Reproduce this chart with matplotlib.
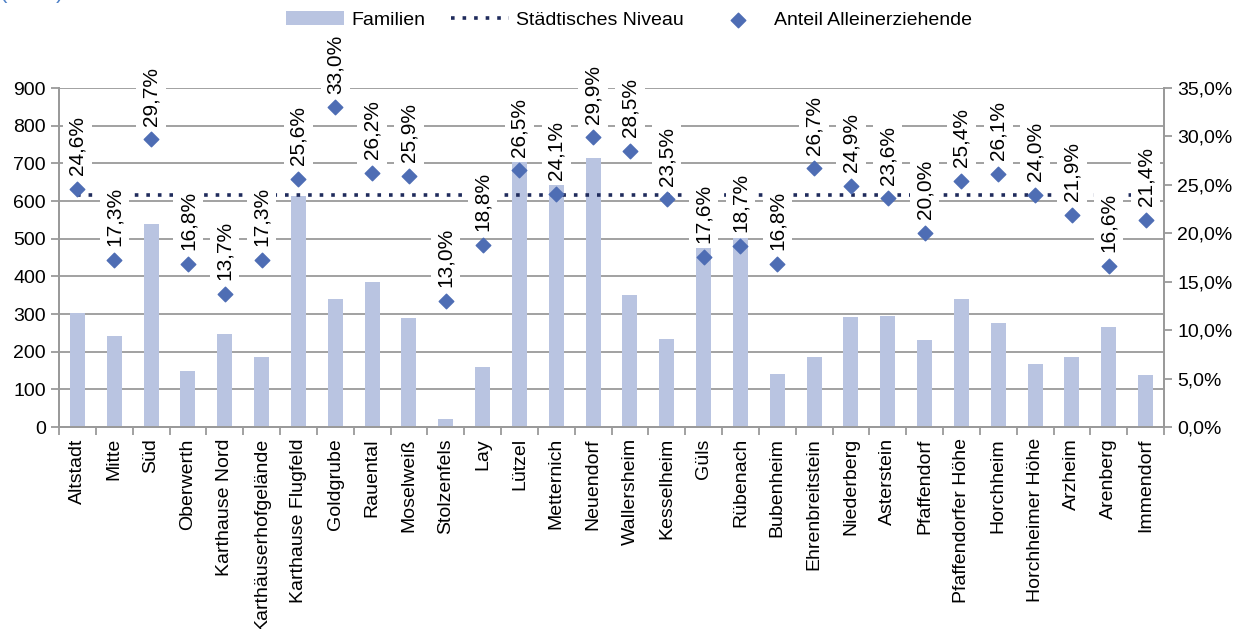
import matplotlib
matplotlib.use('Agg')
import matplotlib.pyplot as plt
from matplotlib.ticker import FuncFormatter, MultipleLocator, FixedLocator

plt.rcParams['font.family'] = ['Liberation Sans', 'DejaVu Sans']

stadtteile = ['Altstadt', 'Mitte', 'Süd', 'Oberwerth', 'Karthause Nord',
              'Karthäuserhofgelände', 'Karthause Flugfeld', 'Goldgrube', 'Rauental',
              'Moselweiß', 'Stolzenfels', 'Lay', 'Lützel', 'Metternich', 'Neuendorf',
              'Wallersheim', 'Kesselheim', 'Güls', 'Rübenach', 'Bubenheim',
              'Ehrenbreitstein', 'Niederberg', 'Asterstein', 'Pfaffendorf',
              'Pfaffendorfer Höhe', 'Horchheim', 'Horchheimer Höhe', 'Arzheim',
              'Arenberg', 'Immendorf']
familien = [304, 241, 538, 149, 248, 185, 613, 341, 386, 290,
            22, 160, 714, 654, 714, 350, 234, 486, 501, 142,
            187, 293, 296, 230, 339, 275, 167, 187, 265, 139]
anteil = [24.6, 17.3, 29.7, 16.8, 13.7, 17.3, 25.6, 33.0, 26.2, 25.9,
          13.0, 18.8, 26.5, 24.1, 29.9, 28.5, 23.5, 17.6, 18.7, 16.8,
          26.7, 24.9, 23.6, 20.0, 25.4, 26.1, 24.0, 21.9, 16.6, 21.4]
niveau = 24.0

bar_col = '#B9C4E1'
dia_col = '#4E6DB4'
line_col = '#1F2B5C'
grid_col = '#9A9A9A'

x = list(range(len(stadtteile)))

fig = plt.figure(figsize=(12.37, 6.29), dpi=100)
ax = fig.add_axes([0.0477, 0.321, 0.8933, 0.539])
ax2 = ax.twinx()

ax.bar(x, familien, width=0.41, color=bar_col, zorder=2, label='Familien')
ax.set_ylim(0, 900)
ax.yaxis.set_major_locator(MultipleLocator(100))
ax.set_xlim(-0.5, len(x) - 0.5)
ax.grid(axis='y', color=grid_col, lw=1.3, zorder=0)
ax.set_axisbelow(True)

ax.set_xticks(x)
ax.set_xticklabels(stadtteile, rotation=90, fontsize=14)
ax.tick_params(axis='x', which='major', length=0, pad=8)
ax.xaxis.set_minor_locator(FixedLocator([i + 0.5 for i in range(-1, len(x))]))
ax.tick_params(axis='x', which='minor', length=6, color=grid_col, width=1.3)
ax.tick_params(axis='y', labelsize=14, length=6, color=grid_col, width=1.3)

ax2.plot(x, [niveau] * len(x), ls=(0, (1, 2.2)), lw=2.6, color=line_col,
         zorder=3, label='Städtisches Niveau')
ax2.scatter(x, anteil, marker='D', s=55, color=dia_col, zorder=4,
            label='Anteil Alleinerziehende')
for xi, v in zip(x, anteil):
    ax2.annotate(f'{v:.1f}'.replace('.', ',') + '%', (xi, v), xytext=(0, 10),
                 textcoords='offset points', rotation=90, ha='center', va='bottom',
                 fontsize=15, zorder=5,
                 bbox=dict(boxstyle='square,pad=0.25', fc='white', ec='none'))
ax2.set_ylim(0, 35)
ax2.yaxis.set_major_locator(MultipleLocator(5))
ax2.yaxis.set_major_formatter(FuncFormatter(lambda v, p: f'{v:.1f}'.replace('.', ',') + '%'))
ax2.tick_params(axis='y', labelsize=14, length=6, color=grid_col, width=1.3)

for a in (ax, ax2):
    a.spines['top'].set_visible(False)
    for s in ('left', 'right', 'bottom'):
        a.spines[s].set_color(grid_col)
        a.spines[s].set_linewidth(1.3)

h1, l1 = ax.get_legend_handles_labels()
h2, l2 = ax2.get_legend_handles_labels()
fig.legend(h1 + h2, l1 + l2, loc='center', bbox_to_anchor=(0.5085, 0.968), ncol=3,
           frameon=False, fontsize=14, handlelength=3.0, columnspacing=1.3,
           handletextpad=0.35)

fig.text(0.0, 1.012, '(2012)', color='#4F81C7', fontsize=16, va='center')

fig.savefig('out.png', dpi=100)
